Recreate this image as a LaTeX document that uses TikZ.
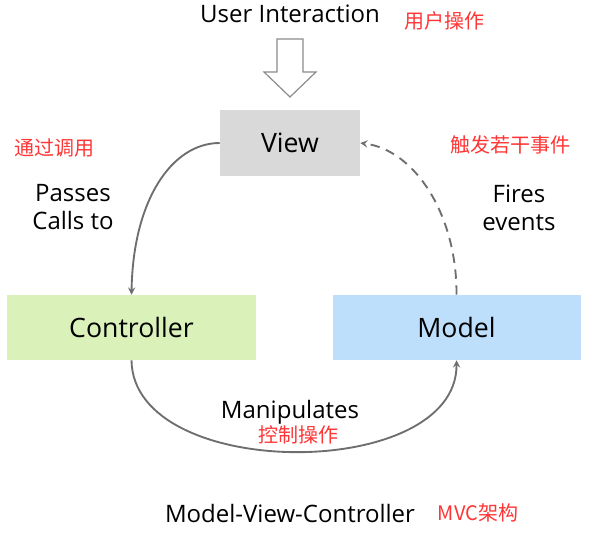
\documentclass[tikz,border=0pt]{standalone}
\usepackage{fontspec}
\setmainfont{Open Sans}
\newfontfamily\cjk{Noto Sans CJK SC}
\definecolor{viewgray}{HTML}{D9D9D9}
\definecolor{ctrlgreen}{HTML}{DAF1B9}
\definecolor{modelblue}{HTML}{BDDFFB}
\definecolor{linkgray}{HTML}{6E6E6E}
\definecolor{zhred}{HTML}{FF3535}
\begin{document}
\begin{tikzpicture}[>=stealth, x=.75pt, y=-.75pt,
  box/.style={inner sep=0pt, font=\fontsize{20}{24}\selectfont},
  link/.style={draw=linkgray, line width=1.4pt},
  txt/.style={inner sep=0pt, font=\fontsize{18}{21}\selectfont, align=center},
  zh/.style={inner sep=0pt, text=zhred, font=\cjk\fontsize{15}{18}\selectfont}]
\useasboundingbox (0,0) rectangle (591,534);
\node[box, fill=viewgray, minimum width=105pt, minimum height=49.5pt] (view) at (290,143) {View};
\node[box, fill=ctrlgreen, minimum width=186.75pt, minimum height=48.75pt] (ctrl) at (131.5,327.5) {Controller};
\node[box, fill=modelblue, minimum width=186pt, minimum height=48.75pt] (model) at (456.5,327.5) {Model};
\node[txt, anchor=base] (user) at (290,23) {User Interaction};
\node[zh] (userzh) at (444,21) {用户操作};
% hollow arrow for the user input
\draw[linkgray!80, line width=.9pt] (277,39)--(303,39)--(303,72)--(316,72)--(290,97)--(264,72)--(277,72)--cycle;
\draw[link, ->] (view.west) .. controls (172,143) and (133,200) .. (ctrl.north);
\draw[link, dashed, dash pattern=on 7pt off 5pt, ->] (model.north) .. controls (457,215) and (415,150) .. (view.east);
\draw[link, ->] (ctrl.south) .. controls (133,482) and (457,482) .. (model.south);
\node[txt] (passes) at (73,207.5) {Passes\\Calls to};
\node[zh] (passeszh) at (54,148) {通过调用};
\node[txt] (fires) at (519,207.5) {Fires\\events};
\node[zh] (fireszh) at (510,145) {触发若干事件};
\node[txt, anchor=base] (manip) at (290,418) {Manipulates};
\node[zh] (manipzh) at (298,434.5) {控制操作};
\node[txt, anchor=base] (title) at (290,522) {Model-View-Controller};
\node[zh] (titlezh) at (478,513) {MVC架构};
\end{tikzpicture}
\end{document}
